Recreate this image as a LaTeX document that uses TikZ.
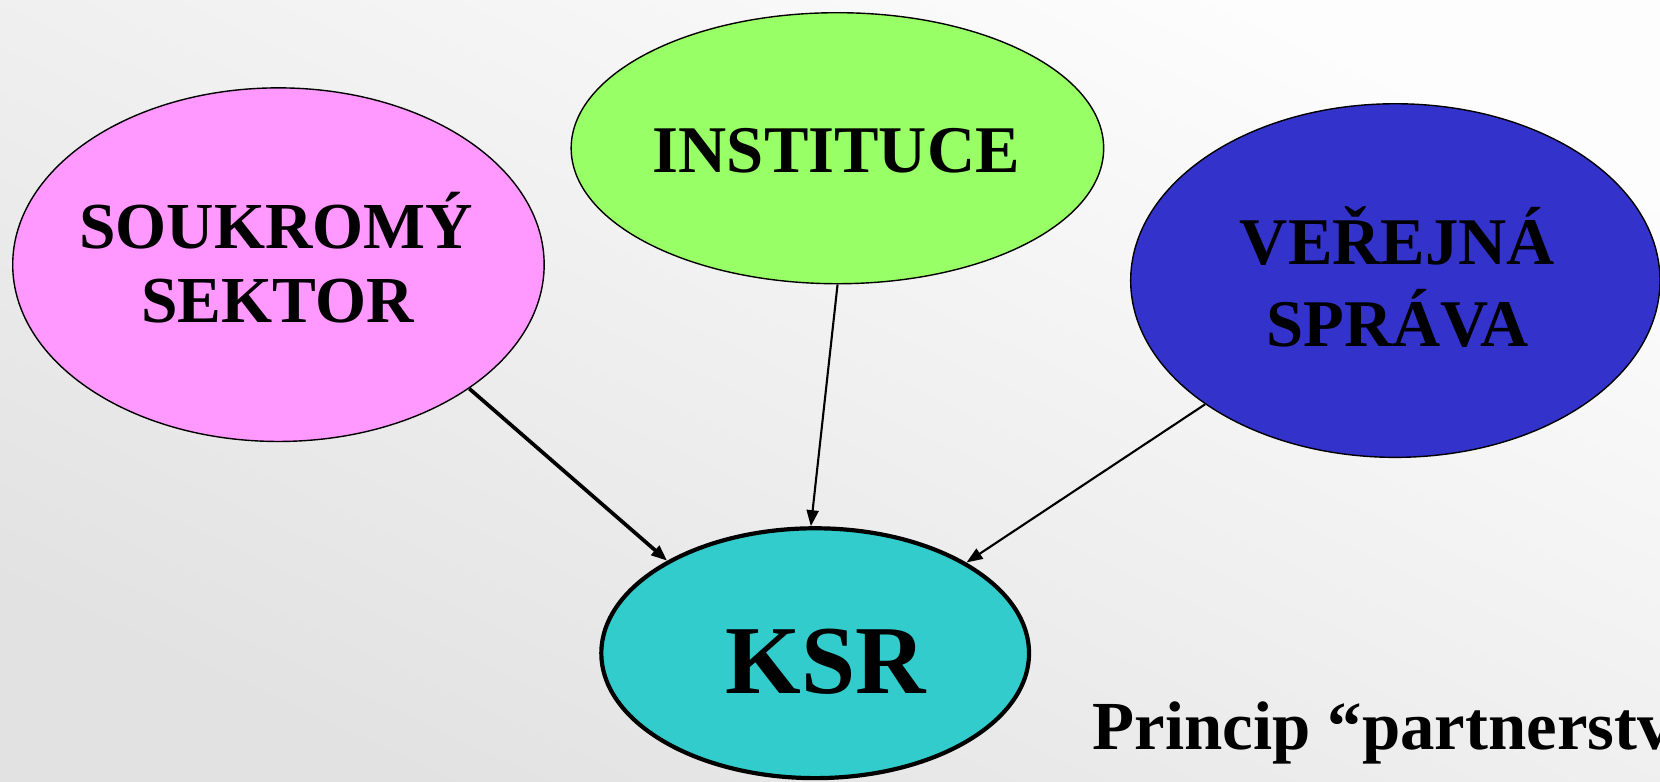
\documentclass[tikz,border=0pt]{standalone}
\usepackage{fontspec}
\setmainfont{Liberation Serif}
\usetikzlibrary{shapes.geometric,arrows.meta,shadings}
\definecolor{bgA}{RGB}{253,253,253}
\definecolor{bgB}{RGB}{226,226,226}
\definecolor{pinkfill}{RGB}{255,153,255}
\definecolor{greenfill}{RGB}{153,255,102}
\definecolor{bluefill}{RGB}{51,51,204}
\definecolor{cyanfill}{RGB}{51,204,204}
\tikzset{
  oval/.style={ellipse, draw=black, line width=1.4pt, inner sep=0pt},
  lbl/.style={anchor=base, inner sep=0pt, font=\fontsize{63}{70}\selectfont\bfseries},
  conn/.style={draw=black, line width=2.1pt, -{Triangle[length=16pt,width=12pt]}}
}
\begin{document}
\begin{tikzpicture}[x=1pt,y=-1pt,scale=1.0587,transform shape]
\useasboundingbox (0,0) rectangle (1568,738.65);
\clip (0,0) rectangle (1568,738.65);
\shade[left color=bgA, right color=bgB, shading angle=-25] (0,0) rectangle (1568,738.65);
% ovals
\node[oval, fill=pinkfill, minimum width=502pt, minimum height=334pt] (sk) at (263,250) {};
\node[oval, fill=greenfill, minimum width=503pt, minimum height=256pt] (in) at (791,140) {};
\node[oval, fill=bluefill, minimum width=500pt, minimum height=334pt] (vs) at (1318,265) {};
\node[oval, fill=cyanfill, line width=4.2pt, minimum width=404pt, minimum height=236pt] (ksr) at (770,617) {};
% texts
\node[lbl, font=\fontsize{62}{70}\selectfont\bfseries] (t1) at (261,235) {SOUKROMÝ};
\node[lbl, font=\fontsize{62}{70}\selectfont\bfseries] (t2) at (262,305) {SEKTOR};
\node[lbl] (t3) at (790,163) {INSTITUCE};
\node[lbl] (t4) at (1320,250) {VEŘEJNÁ};
\node[lbl] (t5) at (1320,327) {SPRÁVA};
\node[lbl, font=\fontsize{92}{100}\selectfont\bfseries] (t6) at (780,655) {KSR};
\node[lbl, anchor=base west, font=\fontsize{65}{70}\selectfont\bfseries] (t7) at (1032,708) {Princip “partnerství”};
% connectors
\draw[conn, line width=3.7pt] (sk.-33.7) -- (ksr.148.1);
\draw[conn] (in.-90) -- (ksr.92);
\draw[conn] (vs.213.7) -- (ksr.31.4);
\end{tikzpicture}
\end{document}
